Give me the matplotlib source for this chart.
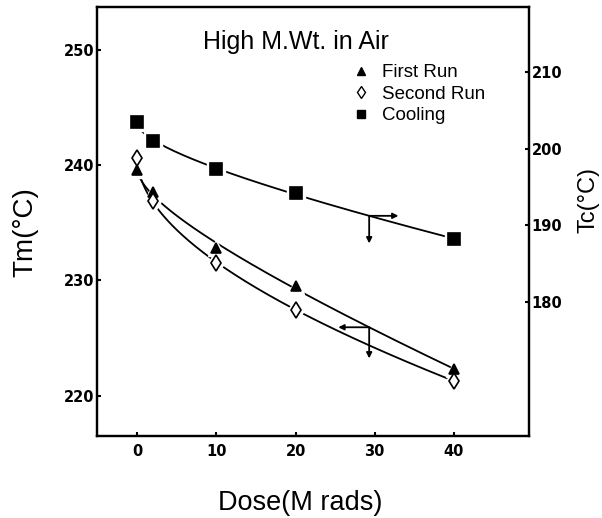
import matplotlib
matplotlib.use("Agg")
import matplotlib.pyplot as plt
from matplotlib.lines import Line2D
import numpy as np

# data
dose = [0, 2, 10, 20, 40]
tm_first_run = [239.6, 237.7, 232.8, 229.5, 222.3]
tm_second_run = [240.6, 236.9, 231.5, 227.4, 221.3]
tc_cooling = [203.5, 201.0, 197.4, 194.2, 188.2]

tm_ticks = [220, 230, 240, 250]
tc_ticks = [180, 190, 200, 210]
dose_ticks = [0, 10, 20, 30, 40]

title = "High M.Wt. in Air"
labels = ["First Run", "Second Run", "Cooling"]

# where the axis-pointer arrows sit on the curves
arrow_dose = 29.3

plt.rcParams["font.family"] = ["Liberation Sans", "DejaVu Sans"]


def _basis(x):
    x = np.asarray(x, dtype=float)
    return np.column_stack([np.ones_like(x), np.sqrt(x), x])


def fit_curve(x, y):
    # smooth decay: y = a + b*sqrt(x) + c*x, least squares
    coef, *_ = np.linalg.lstsq(_basis(x), np.asarray(y, float), rcond=None)
    return coef


def eval_curve(coef, x):
    return _basis(np.atleast_1d(x)) @ coef


def draw_series(axes, x, y, marker, face, size):
    coef = fit_curve(x, y)
    xs = np.linspace(min(x), max(x), 300)
    axes.plot(xs, eval_curve(coef, xs), color="black", linewidth=1.3,
              zorder=2)
    # white halo to break the curve round each marker
    axes.plot(x, y, linestyle="none", marker=marker, markersize=size + 5,
              color="white", markeredgecolor="white", zorder=3)
    axes.plot(x, y, linestyle="none", marker=marker, markersize=size,
              markerfacecolor=face, markeredgecolor="black",
              markeredgewidth=1.2, zorder=4)
    return coef


def style_axis(axes):
    axes.tick_params(axis="both", direction="in", length=3, width=1.5,
                     labelsize=10.5)
    for lab in axes.get_xticklabels() + axes.get_yticklabels():
        lab.set_fontweight("bold")
        lab.set_family("DejaVu Sans")


fig = plt.figure(figsize=(6.02, 5.18), dpi=100)
ax = fig.add_axes([97 / 602, 1 - 436 / 518, 432 / 602, 429 / 518])
ax2 = ax.twinx()

ax.set_xlim(-5.1, 49.5)
ax.set_ylim(216.5, 253.7)
ax2.set_ylim(162.5, 218.5)

c1 = draw_series(ax, dose, tm_first_run, "^", "black", 7)
c2 = draw_series(ax, dose, tm_second_run, "d", "white", 8)
c3 = draw_series(ax2, dose, tc_cooling, "s", "black", 8)

ax.set_xticks(dose_ticks)
ax.set_yticks(tm_ticks)
ax2.set_yticks(tc_ticks)
ax.tick_params(axis="y", pad=2)
ax.tick_params(axis="x", pad=6)
ax2.tick_params(axis="y", pad=2)
style_axis(ax)
style_axis(ax2)

for a in (ax, ax2):
    for sp in a.spines.values():
        sp.set_linewidth(1.6)

arrow_kw = dict(arrowstyle="-|>", color="black", linewidth=1.3,
                mutation_scale=8, shrinkA=0, shrinkB=0)

# cooling -> right axis
yc = eval_curve(c3, arrow_dose)[0]
ax2.annotate("", xy=(arrow_dose + 3.7, yc), xytext=(arrow_dose, yc),
             arrowprops=arrow_kw, zorder=5)
ax2.annotate("", xy=(arrow_dose, yc - 3.6), xytext=(arrow_dose, yc),
             arrowprops=arrow_kw, zorder=5)

# runs -> left axis
yr = eval_curve(c1, arrow_dose)[0]
ax.annotate("", xy=(arrow_dose - 3.9, yr), xytext=(arrow_dose, yr),
            arrowprops=arrow_kw, zorder=5)
ax.annotate("", xy=(arrow_dose, yr - 2.7), xytext=(arrow_dose, yr),
            arrowprops=arrow_kw, zorder=5)

ax.text(0.245, 0.918, title, transform=ax.transAxes, fontsize=18,
        va="center", ha="left")

handles = [
    Line2D([], [], linestyle="none", marker="^", markersize=6,
           color="black"),
    Line2D([], [], linestyle="none", marker="d", markersize=6,
           markerfacecolor="white", markeredgecolor="black"),
    Line2D([], [], linestyle="none", marker="s", markersize=6,
           color="black"),
]
ax.legend(handles, labels, loc="upper left",
          bbox_to_anchor=((352 - 97) / 432, (436 - 64) / 429),
          frameon=False, fontsize=13.5, handlelength=1.0,
          handletextpad=0.6, labelspacing=0.24, borderpad=0,
          borderaxespad=0)

fig.text(25 / 602, 1 - 232 / 518, "Tm(°C)", fontsize=20, rotation=90,
         ha="center", va="center")
fig.text(588 / 602, 1 - 200 / 518, "Tc(°C)", fontsize=17, rotation=90,
         ha="center", va="center")
fig.text(300 / 602, 1 - 503 / 518, "Dose(M rads)", fontsize=19.5,
         ha="center", va="center")

fig.savefig("out.png", dpi=100)
